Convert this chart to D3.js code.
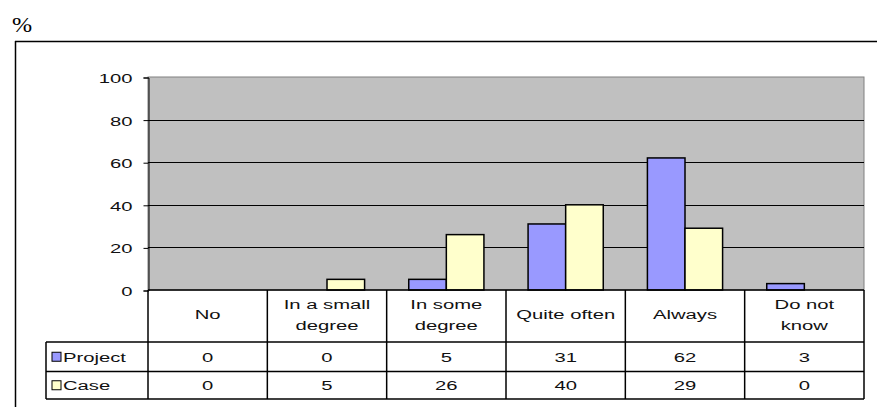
<!DOCTYPE html>
<html><head><meta charset="utf-8">
<script src="https://cdn.jsdelivr.net/npm/d3@7"></script>
<style>html,body{margin:0;padding:0;background:#fff;} svg{display:block;}</style>
</head><body>
<svg id="c" width="877" height="407"></svg>
<script>
const categories = [["No"], ["In a small", "degree"], ["In some", "degree"], ["Quite often"], ["Always"], ["Do not", "know"]];
const seriesNames = ["Project", "Case"];
const projectValues = [0, 0, 5, 31, 62, 3];
const caseValues = [0, 5, 26, 40, 29, 0];
const yTicks = [0, 20, 40, 60, 80, 100];
const colors = {Project: "#9999FF", Case: "#FFFFCC"};

const svg = d3.select("#c");
const font = "'Liberation Sans', Arial, sans-serif";
const SX = 1.5;
const L = 148, R = 864, T = 77, B = 290;
const rowLabelB = 342, rowP = 371.5, rowC = 399;
const tableL = 46;

function txt(parent, x, y, s, anchor) {
  return parent.append("text")
    .attr("transform", `translate(${x},${y}) scale(${SX},1)`)
    .attr("text-anchor", anchor || "start")
    .attr("font-family", font).attr("font-size", 13.5).attr("fill", "#111")
    .text(s);
}

// outer frame
svg.append("line").attr("x1", 15.5).attr("x2", 15.5).attr("y1", 41).attr("y2", 407).attr("stroke", "#000").attr("stroke-width", 1.5);
svg.append("line").attr("x1", 15).attr("x2", 877).attr("y1", 41.5).attr("y2", 41.5).attr("stroke", "#000").attr("stroke-width", 1.5);
svg.append("text").attr("transform", "translate(12,32) scale(1.15,1)")
  .attr("font-family", "'Liberation Serif', 'DejaVu Serif', 'Times New Roman', serif").attr("font-size", 21).text("%");

const keys = categories.map((c, i) => "c" + i);
const x0 = d3.scaleBand().domain(keys).range([L, R]);
const bw = x0.bandwidth();
const x1 = d3.scaleBand().domain(seriesNames).range([bw * 0.185, bw * 0.815]);
const y = d3.scaleLinear().domain([0, 100]).range([B, T]);

// plot area
svg.append("rect").attr("x", L).attr("y", T).attr("width", R - L).attr("height", B - T).attr("fill", "#C0C0C0").attr("stroke", "#808080").attr("stroke-width", 1);

// gridlines
svg.append("g").selectAll("line").data(yTicks.filter(t => t > 0 && t < 100)).join("line")
  .attr("x1", L).attr("x2", R).attr("y1", d => Math.round(y(d)) + 0.5).attr("y2", d => Math.round(y(d)) + 0.5)
  .attr("stroke", "#000").attr("stroke-width", 1);

// y axis
const yAxis = d3.axisLeft(y).tickValues(yTicks).tickSize(5).tickPadding(9);
const ga = svg.append("g").attr("transform", `translate(${L + 0.5},0.5)`).call(yAxis);
ga.select(".domain").attr("stroke", "#000");
ga.selectAll(".tick line").attr("stroke", "#000");
ga.selectAll(".tick text")
  .attr("x", null).attr("dy", null)
  .attr("transform", `translate(-16,5) scale(${SX},1)`)
  .attr("font-family", font).attr("font-size", 13.5).attr("fill", "#111");

// bars
const data = seriesNames.map((s, si) => ({s, vals: si === 0 ? projectValues : caseValues}));
data.forEach(d => {
  svg.append("g").selectAll("rect").data(d.vals).join("rect")
    .attr("x", (v, i) => x0(keys[i]) + x1(d.s))
    .attr("width", x1.bandwidth())
    .attr("y", v => y(v))
    .attr("height", v => B - y(v))
    .attr("fill", colors[d.s]).attr("stroke", "#000").attr("stroke-width", 1.5)
    .attr("display", v => v > 0 ? null : "none");
});

// table
const tg = svg.append("g").attr("stroke", "#000").attr("stroke-width", 1.5);
tg.append("line").attr("x1", L).attr("x2", R).attr("y1", B).attr("y2", B);
tg.append("line").attr("x1", tableL).attr("x2", R).attr("y1", rowLabelB).attr("y2", rowLabelB);
tg.append("line").attr("x1", tableL).attr("x2", R).attr("y1", rowP).attr("y2", rowP);
tg.append("line").attr("x1", tableL).attr("x2", R).attr("y1", rowC).attr("y2", rowC);
tg.append("line").attr("x1", tableL).attr("x2", tableL).attr("y1", rowLabelB).attr("y2", rowC);
keys.concat(["end"]).forEach((k, i) => {
  const xx = i < keys.length ? x0(k) : R;
  tg.append("line").attr("x1", xx).attr("x2", xx).attr("y1", B).attr("y2", rowC);
});

// category labels
categories.forEach((c, i) => {
  const cx = x0(keys[i]) + bw / 2;
  const startY = c.length === 1 ? 319 : 309;
  c.forEach((line, j) => txt(svg, cx, startY + j * 21, line, "middle"));
});

// rows
const rows = [{s: "Project", vals: projectValues, yc: (rowLabelB + rowP) / 2}, {s: "Case", vals: caseValues, yc: (rowP + rowC) / 2}];
rows.forEach(r => {
  svg.append("rect").attr("x", 52).attr("y", r.yc - 4.5).attr("width", 9).attr("height", 9).attr("fill", colors[r.s]).attr("stroke", "#000").attr("stroke-width", 1);
  txt(svg, 63, r.yc + 5, r.s, "start");
  r.vals.forEach((v, i) => txt(svg, x0(keys[i]) + bw / 2, r.yc + 5, String(v), "middle"));
});
</script>
</body></html>
